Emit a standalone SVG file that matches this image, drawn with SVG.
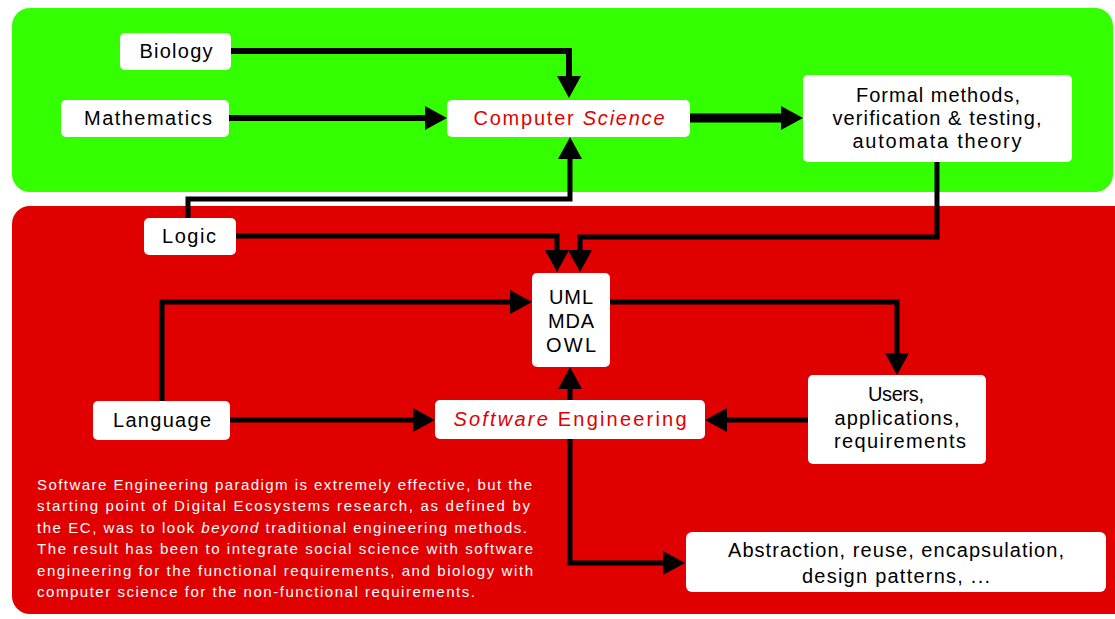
<svg xmlns="http://www.w3.org/2000/svg" width="1115" height="619" viewBox="0 0 1115 619">
<style>
.box{fill:#ffffff;}
.t{font-family:"Liberation Sans",Arial,sans-serif;font-size:20px;fill:#000;text-anchor:middle;}
.tr{fill:#e00000;}
.p{font-family:"Liberation Sans",Arial,sans-serif;font-size:15px;fill:#fff;}
.c{fill:none;stroke:#000;stroke-width:5;stroke-linejoin:miter;}
.c6{stroke-width:6;}
.c9{stroke-width:9;}
</style>
<defs>
<marker id="ah" viewBox="0 0 22 24" refX="12" refY="12" markerWidth="22" markerHeight="24" markerUnits="userSpaceOnUse" orient="auto">
<path d="M0,0 L22,12 L0,24 z" fill="#000"/>
</marker>
</defs>
<rect x="0" y="0" width="1115" height="619" fill="#fff"/>
<g id="panels">
<rect x="12" y="8" width="1101" height="184" rx="18" fill="#33ff00"/>
<rect x="12" y="206" width="1130" height="408" rx="18" fill="#e00000"/>
</g>
<g id="paragraph">
<text class="p" x="37" y="490" textLength="495" lengthAdjust="spacing">Software Engineering paradigm is extremely effective, but the</text>
<text class="p" x="37" y="511" textLength="493" lengthAdjust="spacing">starting point of Digital Ecosystems research, as defined by</text>
<text class="p" x="37" y="533" textLength="490" lengthAdjust="spacing">the EC, was to look <tspan font-style="italic">beyond</tspan> traditional engineering methods.</text>
<text class="p" x="37" y="554" textLength="496" lengthAdjust="spacing">The result has been to integrate social science with software</text>
<text class="p" x="37" y="576" textLength="496" lengthAdjust="spacing">engineering for the functional requirements, and biology with</text>
<text class="p" x="37" y="597" textLength="438" lengthAdjust="spacing">computer science for the non-functional requirements.</text>
</g>
<g id="connectors">
<path class="c c6" d="M231,51 H569 V88" marker-end="url(#ah)"/>
<path class="c c6" d="M229,118 H437" marker-end="url(#ah)"/>
<path class="c c9" d="M690,118 H793" marker-end="url(#ah)"/>
<path class="c" d="M188,218 V199 H570 V147" marker-end="url(#ah)"/>
<path class="c" d="M236,236 H557 V262" marker-end="url(#ah)"/>
<path class="c" d="M937,162 V237 H580 V262" marker-end="url(#ah)"/>
<path class="c" d="M162,401 V302 H522" marker-end="url(#ah)"/>
<path class="c" d="M230,420 H425" marker-end="url(#ah)"/>
<path class="c" d="M610,302 H897 V365" marker-end="url(#ah)"/>
<path class="c" d="M808,420 H715" marker-end="url(#ah)"/>
<path class="c" d="M570,400 V377" marker-end="url(#ah)"/>
<path class="c" d="M570,438 V563 H675" marker-end="url(#ah)"/>
</g>
<g id="biology">
<rect class="box" x="120" y="33" width="111" height="37" rx="5"/>
<text class="t" x="176" y="58" textLength="73" lengthAdjust="spacing">Biology</text>
</g>
<g id="mathematics">
<rect class="box" x="61" y="100" width="168" height="37" rx="5"/>
<text class="t" x="148" y="125" textLength="128" lengthAdjust="spacing">Mathematics</text>
</g>
<g id="computer-science">
<rect class="box" x="447" y="100" width="243" height="37" rx="5"/>
<text class="t tr" x="569" y="125" textLength="191" lengthAdjust="spacing">Computer <tspan font-style="italic">Science</tspan></text>
</g>
<g id="formal-methods">
<rect class="box" x="803" y="75" width="269" height="87" rx="5"/>
<text class="t" x="938" y="102" textLength="164" lengthAdjust="spacing">Formal methods,</text>
<text class="t" x="937" y="125" textLength="209" lengthAdjust="spacing">verification &amp; testing,</text>
<text class="t" x="937" y="148" textLength="169" lengthAdjust="spacing">automata theory</text>
</g>
<g id="logic">
<rect class="box" x="144" y="218" width="92" height="37" rx="5"/>
<text class="t" x="189" y="243" textLength="54" lengthAdjust="spacing">Logic</text>
</g>
<g id="uml">
<rect class="box" x="532" y="273" width="78" height="94" rx="5"/>
<text class="t" x="571" y="304" textLength="44" lengthAdjust="spacing">UML</text>
<text class="t" x="571" y="328" textLength="46" lengthAdjust="spacing">MDA</text>
<text class="t" x="571" y="352" textLength="50" lengthAdjust="spacing">OWL</text>
</g>
<g id="language">
<rect class="box" x="93" y="401" width="137" height="39" rx="5"/>
<text class="t" x="162" y="427" textLength="98" lengthAdjust="spacing">Language</text>
</g>
<g id="software-engineering">
<rect class="box" x="435" y="400" width="270" height="39" rx="5"/>
<text class="t tr" x="570" y="426" textLength="233" lengthAdjust="spacing"><tspan font-style="italic">Software</tspan> Engineering</text>
</g>
<g id="users">
<rect class="box" x="808" y="375" width="178" height="89" rx="5"/>
<text class="t" x="896" y="401" textLength="56" lengthAdjust="spacing">Users,</text>
<text class="t" x="897" y="425" textLength="125" lengthAdjust="spacing">applications,</text>
<text class="t" x="900" y="448" textLength="132" lengthAdjust="spacing">requirements</text>
</g>
<g id="abstraction">
<rect class="box" x="686" y="532" width="420" height="60" rx="6"/>
<text class="t" x="896" y="557" textLength="336" lengthAdjust="spacing">Abstraction, reuse, encapsulation,</text>
<text class="t" x="896" y="583" textLength="188" lengthAdjust="spacing">design patterns, ...</text>
</g>
</svg>
